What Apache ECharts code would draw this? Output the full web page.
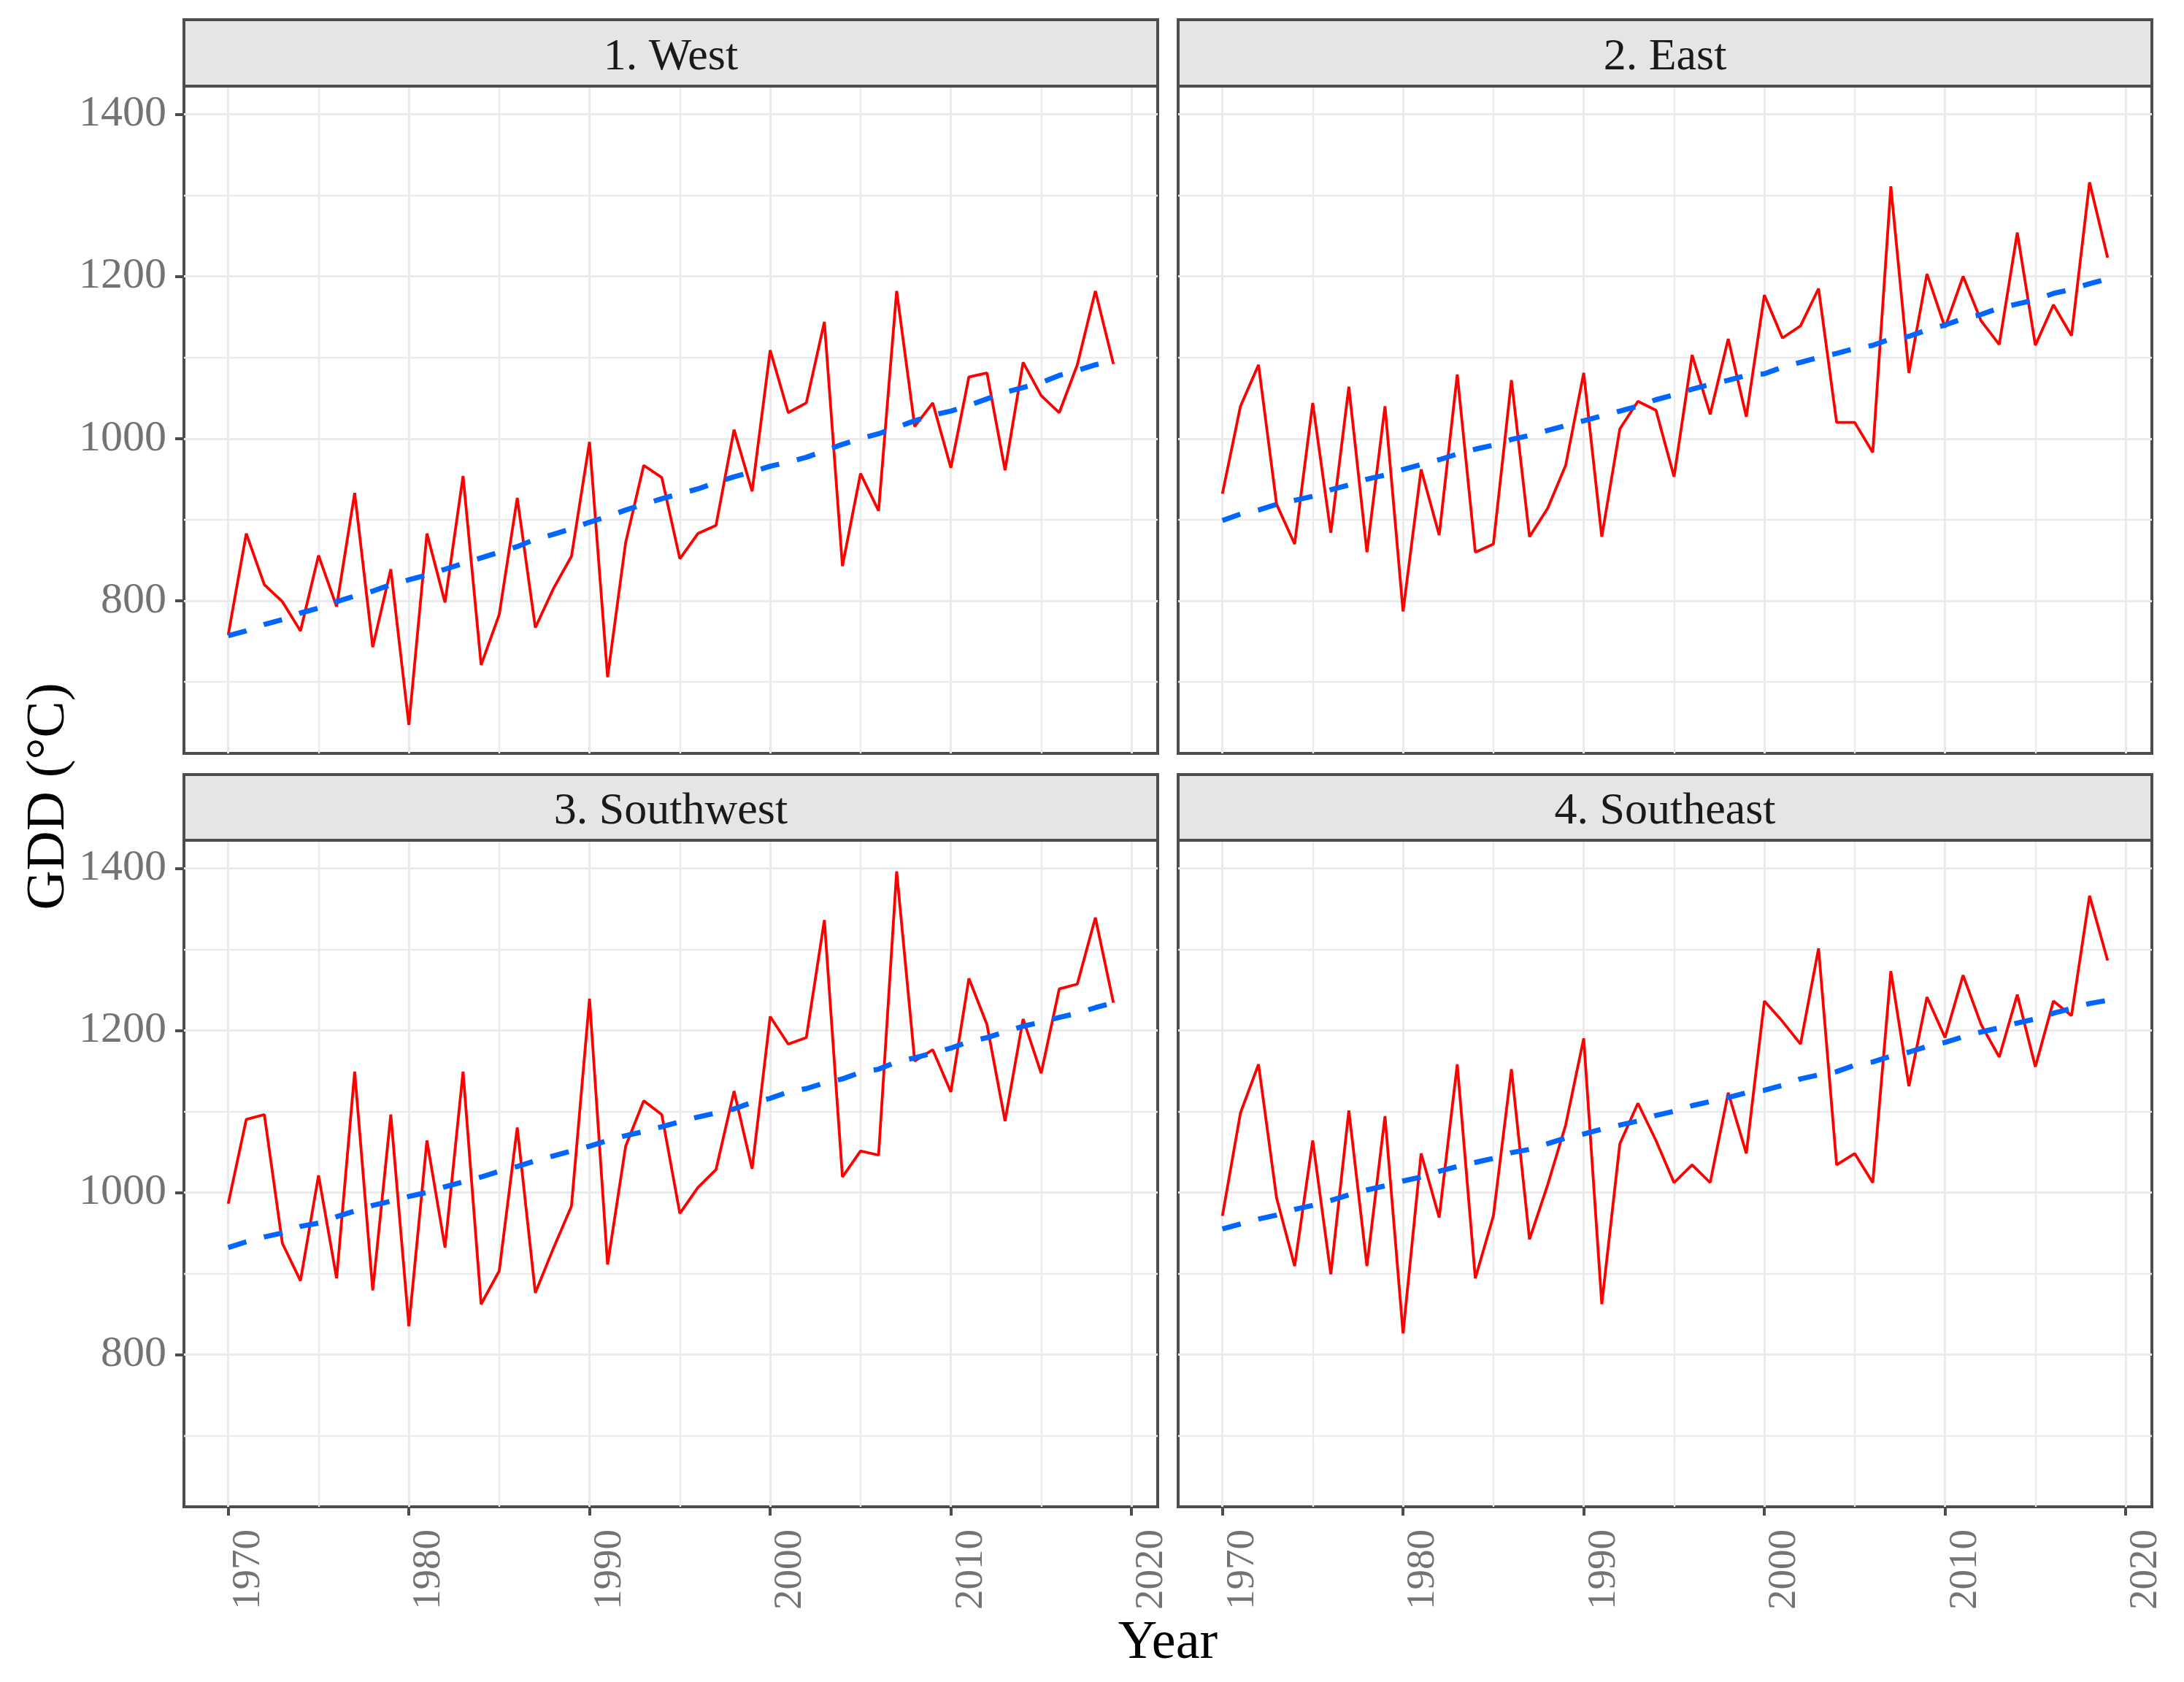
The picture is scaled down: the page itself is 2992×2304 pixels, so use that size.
<!DOCTYPE html>
<html>
<head>
<meta charset="utf-8">
<script src="https://cdn.jsdelivr.net/npm/echarts@6/dist/echarts.min.js"></script>
<style>
html,body{margin:0;padding:0;background:#fff;}
#chart{width:2992px;height:2304px;}
</style>
</head>
<body>
<div id="chart"></div>
<script>
var years = [1970,1971,1972,1973,1974,1975,1976,1977,1978,1979,
             1980,1981,1982,1983,1984,1985,1986,1987,1988,1989,
             1990,1991,1992,1993,1994,1995,1996,1997,1998,1999,
             2000,2001,2002,2003,2004,2005,2006,2007,2008,2009,
             2010,2011,2012,2013,2014,2015,2016,2017,2018,2019];

var panelNames = ['1. West', '2. East', '3. Southwest', '4. Southeast'];

var westGDD = [758,883,820,799,763,856,793,933,743,839,
               647,883,798,954,721,783,927,767,815,855,
               996,706,872,967,952,852,883,893,1011,935,
               1109,1032,1044,1144,843,957,911,1182,1015,1044,
               964,1076,1081,961,1094,1053,1032,1091,1182,1092];
var westTrend = [757,763,771,777,785,791,799,806,812,820,
                 826,832,839,846,853,860,867,876,882,889,
                 897,904,912,919,926,932,938,946,953,959,
                 966,971,977,985,993,1000,1006,1014,1022,1029,
                 1034,1041,1049,1057,1063,1069,1078,1084,1091,1096];

var eastGDD = [932,1040,1091,919,870,1044,884,1064,860,1040,
               787,962,881,1079,860,870,1072,879,914,967,
               1081,879,1012,1046,1035,953,1103,1030,1123,1027,
               1177,1124,1139,1185,1020,1020,983,1311,1081,1203,
               1137,1200,1145,1116,1254,1115,1165,1127,1316,1223];
var eastTrend = [899,907,912,919,924,929,937,943,950,955,
                 962,968,974,981,987,992,999,1004,1010,1016,
                 1022,1028,1034,1040,1048,1054,1061,1067,1072,1078,
                 1080,1088,1094,1100,1105,1111,1115,1123,1126,1134,
                 1140,1148,1153,1161,1166,1171,1179,1184,1191,1197];

var southwestGDD = [986,1090,1096,937,891,1021,894,1149,879,1096,
                    835,1064,932,1149,862,903,1080,876,931,983,
                    1239,911,1057,1113,1096,974,1006,1028,1125,1029,
                    1217,1183,1191,1336,1019,1051,1046,1396,1162,1176,
                    1124,1264,1207,1088,1214,1147,1251,1257,1339,1234];
var southwestTrend = [932,939,945,950,958,962,970,977,984,989,
                      995,1000,1007,1013,1019,1026,1032,1039,1045,1051,
                      1057,1064,1070,1075,1081,1087,1093,1098,1103,1111,
                      1116,1124,1128,1135,1140,1148,1152,1161,1166,1172,
                      1178,1186,1191,1198,1205,1210,1216,1221,1228,1234];

var southeastGDD = [971,1098,1158,993,909,1064,899,1101,909,1094,
                    826,1048,969,1158,894,971,1152,942,1009,1083,
                    1190,862,1060,1110,1064,1012,1034,1012,1123,1048,
                    1236,1211,1183,1301,1034,1048,1012,1273,1131,1241,
                    1191,1268,1207,1167,1244,1155,1236,1218,1366,1286];
var southeastTrend = [955,961,967,972,979,984,990,997,1003,1008,
                      1014,1019,1026,1032,1037,1042,1049,1053,1060,1067,
                      1072,1078,1083,1088,1095,1100,1107,1112,1117,1123,
                      1126,1132,1140,1145,1149,1157,1161,1168,1173,1180,
                      1185,1192,1198,1203,1209,1214,1221,1227,1233,1237];

var xMajorTicks = [1970,1980,1990,2000,2010,2020];
var xMinorTicks = [1975,1985,1995,2005,2015];
var yMajorTicks = [800,1000,1200,1400];
var yMinorTicks = [700,900,1100,1300];

var gddSeries = [westGDD, eastGDD, southwestGDD, southeastGDD];
var trendSeries = [westTrend, eastTrend, southwestTrend, southeastTrend];

var FONT = '"Liberation Serif", "Times New Roman", serif';
var X_MIN = 1967.55, X_MAX = 2021.45;
var Y_MIN = 612, Y_MAX = 1434.5;

var layout = [
  {left: 252, top: 118, width: 1334, height: 914, stripTop: 27},
  {left: 1614, top: 118, width: 1334, height: 914, stripTop: 27},
  {left: 252, top: 1151, width: 1334, height: 913, stripTop: 1061},
  {left: 1614, top: 1151, width: 1334, height: 913, stripTop: 1061}
];

var grids = [], xAxes = [], yAxes = [], series = [], graphics = [];
var gridColor = '#EBEBEB', borderColor = '#4D4D4D', tickTextColor = '#737373';
function plain(v) { return String(v); }

layout.forEach(function (L, i) {
  var isBottom = i >= 2, isLeft = (i % 2) === 0;
  grids.push({left: L.left, top: L.top, width: L.width, height: L.height,
    show: true, borderColor: borderColor, borderWidth: 4, backgroundColor: '#fff', containLabel: false});
  xAxes.push({
    type: 'value', gridIndex: i, min: X_MIN, max: X_MAX, position: 'bottom',
    axisLine: {show: false, onZero: false},
    axisTick: {show: isBottom, length: 12, customValues: xMajorTicks, lineStyle: {color: borderColor, width: 4}},
    axisLabel: {show: isBottom, customValues: xMajorTicks, rotate: 90, margin: 31, verticalAlign: 'top',
      formatter: plain, color: tickTextColor, fontFamily: FONT, fontSize: 55},
    splitLine: {show: true, lineStyle: {color: gridColor, width: 3}}
  });
  xAxes.push({
    type: 'value', gridIndex: i, min: X_MIN, max: X_MAX, position: 'bottom',
    axisLine: {show: false, onZero: false},
    axisTick: {show: false, customValues: xMinorTicks},
    axisLabel: {show: false},
    splitLine: {show: true, lineStyle: {color: gridColor, width: 2.4}}
  });
  yAxes.push({
    type: 'value', gridIndex: i, min: Y_MIN, max: Y_MAX, position: 'left',
    axisLine: {show: false, onZero: false},
    axisTick: {show: isLeft, length: 12, customValues: yMajorTicks, lineStyle: {color: borderColor, width: 4}},
    axisLabel: {show: isLeft, customValues: yMajorTicks, margin: 24, formatter: plain,
      color: tickTextColor, fontFamily: FONT, fontSize: 60},
    splitLine: {show: true, lineStyle: {color: gridColor, width: 3}}
  });
  yAxes.push({
    type: 'value', gridIndex: i, min: Y_MIN, max: Y_MAX, position: 'left',
    axisLine: {show: false, onZero: false},
    axisTick: {show: false, customValues: yMinorTicks},
    axisLabel: {show: false},
    splitLine: {show: true, lineStyle: {color: gridColor, width: 2.4}}
  });

  series.push({
    type: 'line', name: panelNames[i] + ' GDD', xAxisIndex: 2 * i, yAxisIndex: 2 * i,
    data: years.map(function (y, k) { return [y, gddSeries[i][k]]; }),
    symbol: 'none', lineStyle: {color: '#FF0000', width: 3.8}, z: 3
  });
  series.push({
    type: 'line', name: panelNames[i] + ' trend', xAxisIndex: 2 * i, yAxisIndex: 2 * i,
    data: years.map(function (y, k) { return [y, trendSeries[i][k]]; }),
    symbol: 'none', lineStyle: {color: '#0066FF', width: 7, type: [26, 25], cap: 'butt'}, z: 4
  });

  graphics.push({
    type: 'rect', shape: {x: L.left, y: L.stripTop, width: L.width, height: L.top - L.stripTop},
    style: {fill: '#E5E5E5', stroke: borderColor, lineWidth: 4}, z: 10
  });
  graphics.push({
    type: 'text', x: L.left + L.width / 2, y: (L.stripTop + L.top) / 2 + 6,
    style: {text: panelNames[i], fill: '#1A1A1A', font: '62px ' + FONT,
      align: 'center', verticalAlign: 'middle', textAlign: 'center', textVerticalAlign: 'middle'}, z: 11
  });
});

graphics.push({
  type: 'text', x: 67, y: 1091, rotation: Math.PI / 2,
  style: {text: 'GDD (°C)', fill: '#000', font: '75px ' + FONT,
    align: 'center', verticalAlign: 'middle', textAlign: 'center', textVerticalAlign: 'middle'}
});
graphics.push({
  type: 'text', x: 1600, y: 2252,
  style: {text: 'Year', fill: '#000', font: '74px ' + FONT,
    align: 'center', verticalAlign: 'middle', textAlign: 'center', textVerticalAlign: 'middle'}
});

var chart = echarts.init(document.getElementById('chart'), null, {renderer: 'canvas'});
chart.setOption({
  backgroundColor: '#fff',
  animation: false,
  grid: grids,
  xAxis: xAxes,
  yAxis: yAxes,
  series: series,
  graphic: graphics
});
</script>
</body>
</html>
